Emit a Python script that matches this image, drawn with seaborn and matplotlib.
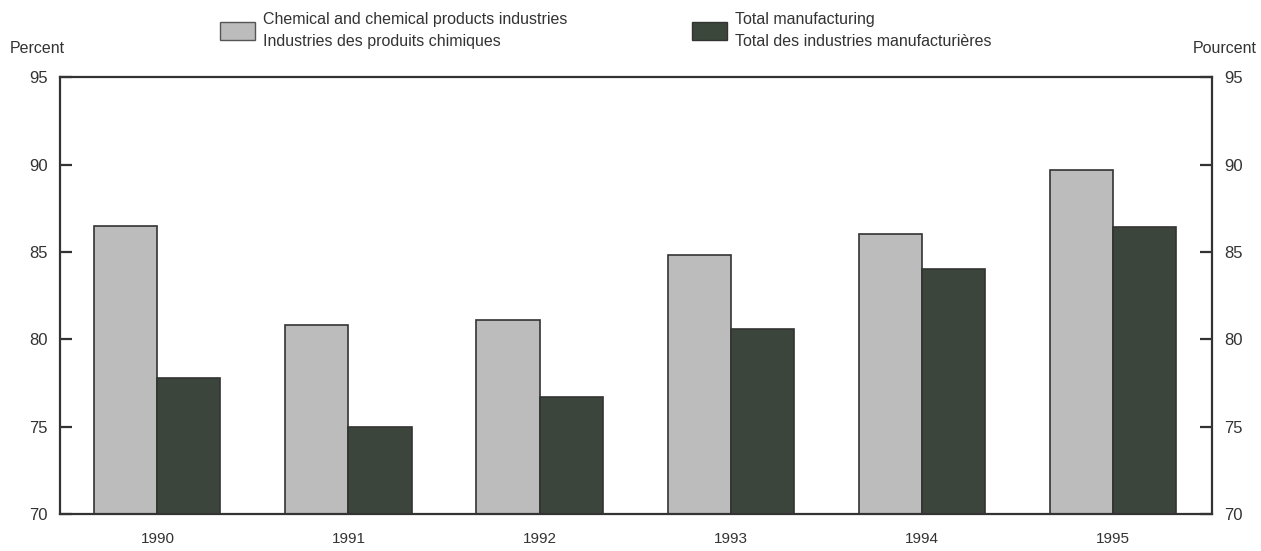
### Import libraries
import pandas as pd
import matplotlib.pyplot as plt
import matplotlib.patches as mpatches
import seaborn as sns

### Data
years = ["1990", "1991", "1992", "1993", "1994", "1995"]
chemical = [86.5, 80.8, 81.1, 84.8, 86.0, 89.7]
total_manuf = [77.8, 75.0, 76.7, 80.6, 84.0, 86.4]
label_chem = "Chemical and chemical products industries\nIndustries des produits chimiques"
label_total = "Total manufacturing\nTotal des industries manufacturières"

sns.set_style("white")
plt.rcParams['font.family'] = ['Liberation Sans', 'DejaVu Sans']

donnees = pd.DataFrame({
    "year": years * 2,
    "value": chemical + total_manuf,
    "series": [label_chem] * len(years) + [label_total] * len(years),
})

couleurs = {label_chem: "#bcbcbc", label_total: "#3b473a"}

fig = plt.figure(figsize=(12.61, 5.51), dpi=100)
ax = fig.add_axes([0.0476, 0.067, 0.9135, 0.793])

sns.barplot(data=donnees, x="year", y="value", hue="series", palette=couleurs,
            width=0.66, edgecolor="#333333", linewidth=1.2, ax=ax, legend=False)

ax.set_ylim(70, 95)
ax.set_xlim(-0.51, 5.52)
ax.set_yticks([70, 75, 80, 85, 90, 95])
ax.set_xlabel("")
ax.set_ylabel("")
for s in ax.spines.values():
    s.set_linewidth(1.6)
    s.set_color("#333333")
ax.tick_params(axis="y", direction="in", length=8.5, width=1.6, color="#333333",
               left=True, right=True, labelleft=True, labelright=True,
               pad=9, labelsize=12, labelcolor="#333333")
ax.tick_params(axis="x", length=0, pad=13, labelsize=11, labelcolor="#333333")

fig.text(0.008, 0.912, "Percent", fontsize=11.5, color="#333333", va="center")
fig.text(0.997, 0.912, "Pourcent", fontsize=11.5, color="#333333", va="center", ha="right")

leg_chem = mpatches.Patch(facecolor=couleurs[label_chem], edgecolor="#555555", label=label_chem)
leg_total = mpatches.Patch(facecolor=couleurs[label_total], edgecolor="#333333", label=label_total)
leg = fig.legend(handles=[leg_chem, leg_total], loc="upper left", ncol=2,
                 bbox_to_anchor=(0.163, 1.004), frameon=False, fontsize=11.5,
                 handlelength=2.2, handleheight=1.4, handletextpad=0.5,
                 columnspacing=7.8, labelcolor="#333333")
for t in leg.get_texts():
    t.set_linespacing(1.55)

plt.savefig("out.png", dpi=100)
plt.close()
